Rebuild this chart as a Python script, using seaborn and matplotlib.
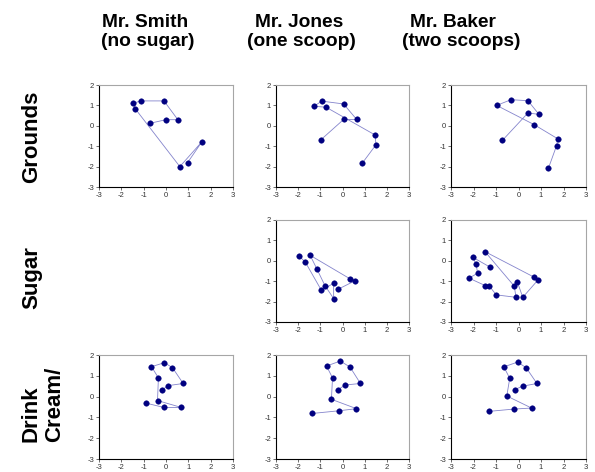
import matplotlib.pyplot as plt
import seaborn as sns

sns.set_style("ticks")
plt.rcParams["font.family"] = ["Liberation Sans", "DejaVu Sans"]
plt.rcParams["axes.unicode_minus"] = False
plt.rcParams["text.color"] = "black"

W, H = 595, 472

people = ["Mr. Smith", "Mr. Jones", "Mr. Baker"]
doses = ["(no sugar)", "(one scoop)", "(two scoops)"]
rows = ["Grounds", "Sugar", "Drink"]

# trajectories (in plotting order)
smith_grounds_x = [-0.73, 0.00, 0.53, -0.09, -1.14, -1.47, -1.38, 0.62, 1.61, 0.97]
smith_grounds_y = [0.12, 0.30, 0.30, 1.22, 1.22, 1.10, 0.84, -2.00, -0.78, -1.80]

jones_grounds_x = [-0.97, 0.05, 0.64, 0.05, -0.93, -1.29, -0.74, 1.47, 1.51, 0.90]
jones_grounds_y = [-0.68, 0.31, 0.31, 1.07, 1.21, 0.96, 0.91, -0.45, -0.93, -1.82]

baker_grounds_x = [-0.72, 0.42, 0.91, 0.42, -0.33, -0.97, 0.69, 1.75, 1.69, 1.33]
baker_grounds_y = [-0.72, 0.63, 0.56, 1.23, 1.28, 1.00, 0.06, -0.64, -0.98, -2.08]

jones_sugar_x = [-1.95, -1.68, -0.95, -0.40, -0.40, -0.79, -1.16, -1.46, 0.35, 0.58, -0.21]
jones_sugar_y = [0.22, -0.06, -1.45, -1.10, -1.85, -1.22, -0.39, 0.27, -0.89, -0.97, -1.40]

baker_sugar_x = [-1.28, -2.03, -1.88, -1.82, -2.20, -1.47, -1.31, -0.99, -0.11, -0.19,
                 -1.49, 0.69, 0.85, 0.19, -0.05]
baker_sugar_y = [-0.30, 0.17, -0.17, -0.61, -0.85, -1.22, -1.22, -1.67, -1.79, -1.24,
                 0.45, -0.80, -0.96, -1.79, -1.04]

smith_drink_x = [-0.20, 0.11, 0.77, 0.29, -0.07, -0.65, -0.34, -0.38, 0.68, -0.10, -0.91]
smith_drink_y = [0.31, 0.53, 0.63, 1.39, 1.63, 1.44, 0.90, -0.19, -0.52, -0.52, -0.31]

jones_drink_x = [-0.20, 0.13, 0.81, 0.34, -0.10, -0.72, -0.45, -0.50, 0.63, -0.14, -1.36]
jones_drink_y = [0.34, 0.56, 0.63, 1.42, 1.71, 1.47, 0.90, -0.13, -0.58, -0.68, -0.81]

baker_drink_x = [-0.16, 0.18, 0.82, 0.34, -0.04, -0.65, -0.39, -0.52, 0.58, -0.21, -1.31]
baker_drink_y = [0.34, 0.50, 0.63, 1.39, 1.66, 1.43, 0.88, 0.03, -0.55, -0.60, -0.71]

panels = {
    (0, 0): (smith_grounds_x, smith_grounds_y),
    (0, 1): (jones_grounds_x, jones_grounds_y),
    (0, 2): (baker_grounds_x, baker_grounds_y),
    (1, 1): (jones_sugar_x, jones_sugar_y),
    (1, 2): (baker_sugar_x, baker_sugar_y),
    (2, 0): (smith_drink_x, smith_drink_y),
    (2, 1): (jones_drink_x, jones_drink_y),
    (2, 2): (baker_drink_x, baker_drink_y),
}

col_left = [99, 276, 451]
col_width = [134, 133, 135]
row_top = [85, 220, 355]
row_height = [102, 102, 104]

fig = plt.figure(figsize=(W / 100, H / 100), dpi=100)

for (r, c), (xs, ys) in panels.items():
    left = col_left[c] / W
    bottom = 1 - (row_top[r] + row_height[r]) / H
    ax = fig.add_axes([left, bottom, col_width[c] / W, row_height[r] / H])
    sns.lineplot(x=xs, y=ys, sort=False, estimator=None, ax=ax,
                 color="#8484cc", lw=0.6)
    sns.scatterplot(x=xs, y=ys, ax=ax, color="#000080", s=16,
                    edgecolor="#000080", linewidth=0.3, zorder=3)
    ax.set_xlim(-3, 3)
    ax.set_ylim(-3, 2)
    ax.set_xticks(range(-3, 4))
    ax.set_yticks(range(-3, 3))
    ax.tick_params(labelsize=5.5, length=2, width=0.5, pad=1.5, colors="#333333")
    for side in ["left", "bottom"]:
        ax.spines[side].set_color("black")
        ax.spines[side].set_linewidth(0.8)
    for side in ["top", "right"]:
        ax.spines[side].set_visible(True)
        ax.spines[side].set_color("#a6a6a6")
        ax.spines[side].set_linewidth(0.8)

# column headers
head_x = [(145, 148), (299, 301), (453, 461)]
for name, dose, (x1, x2) in zip(people, doses, head_x):
    fig.text(x1 / W, 1 - 27 / H, name, ha="center", va="baseline",
             fontsize=13.8, fontweight="bold")
    fig.text(x2 / W, 1 - 46.5 / H, dose, ha="center", va="baseline",
             fontsize=13.8, fontweight="bold")

# row labels
fig.text(32 / W, 1 - 136.7 / H, rows[0], rotation=90, ha="center", va="center",
         fontsize=16, fontweight="bold")
fig.text(32 / W, 1 - 277.5 / H, rows[1], rotation=90, ha="center", va="center",
         fontsize=16, fontweight="bold")
fig.text(31.5 / W, 1 - 442 / H, rows[2], rotation=90, ha="center", va="bottom",
         fontsize=16, fontweight="bold")
fig.text(54.5 / W, 1 - 442 / H, "Cream/", rotation=90, ha="center", va="bottom",
         fontsize=16, fontweight="bold")

fig.savefig("out.png", dpi=100)
